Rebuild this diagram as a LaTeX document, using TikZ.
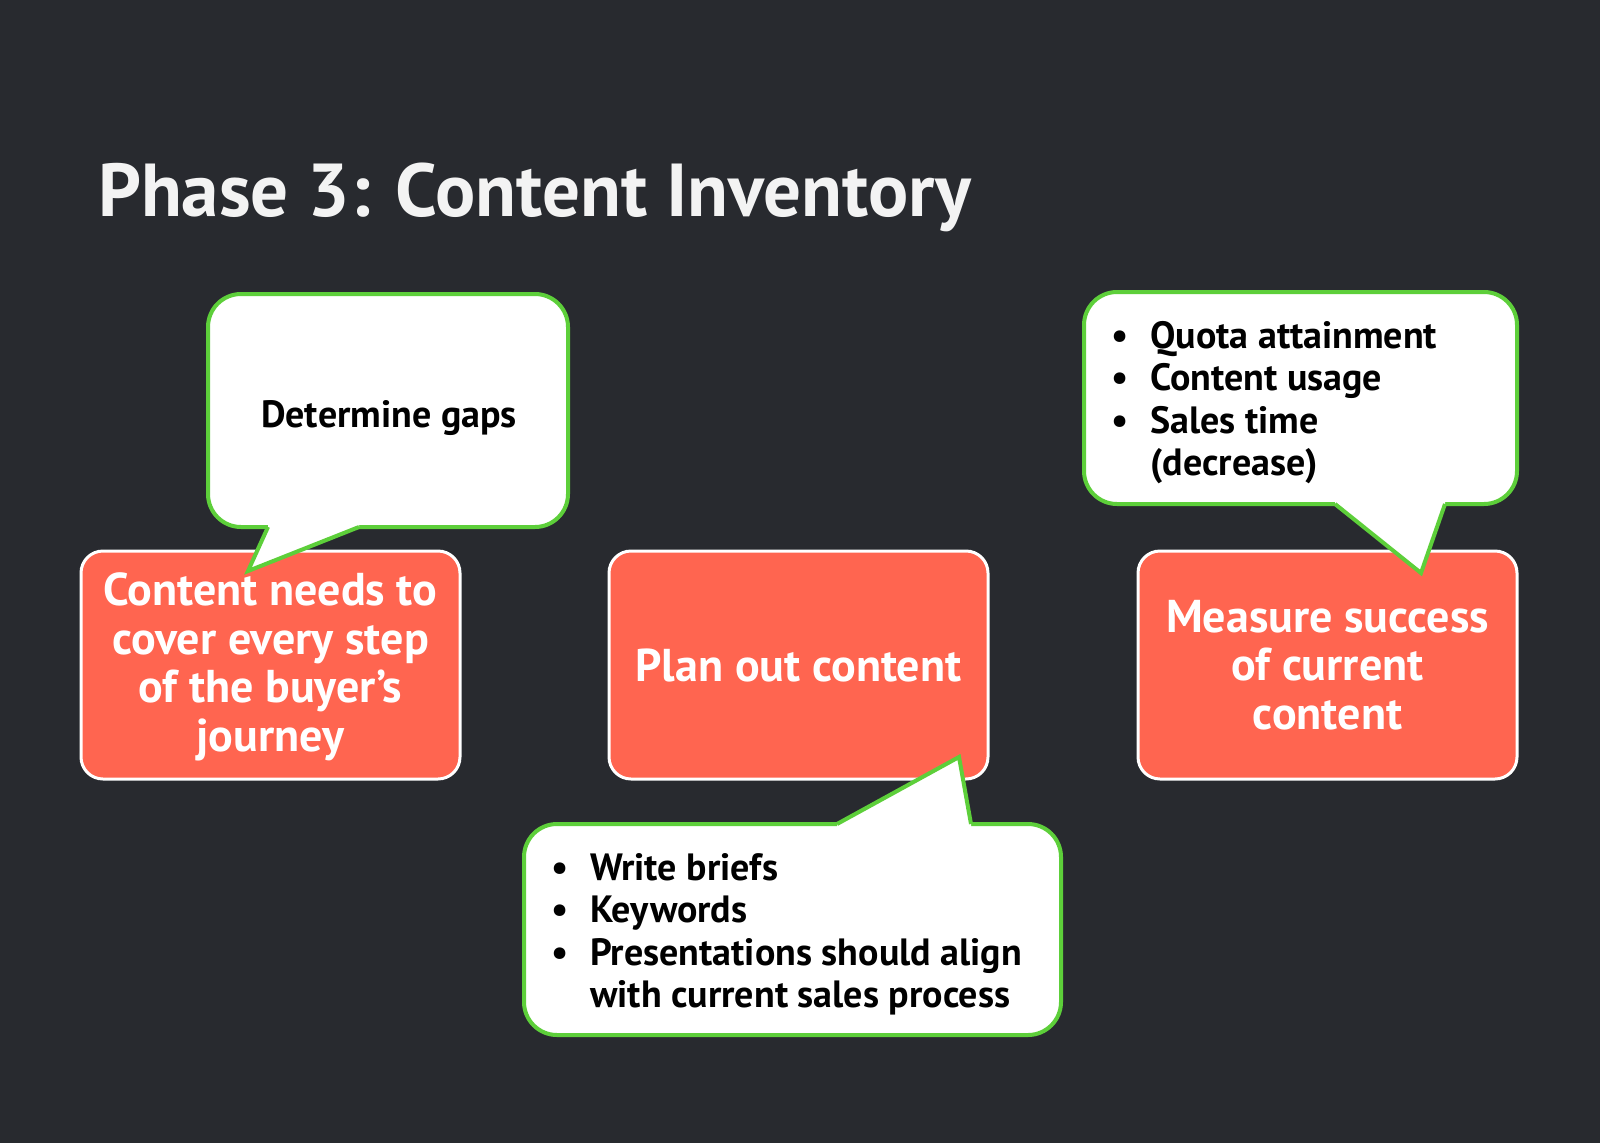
\documentclass[tikz,border=0pt]{standalone}
\usepackage{fontspec}
\setmainfont{PT Sans}
\definecolor{bgdark}{RGB}{40,42,47}
\definecolor{coral}{RGB}{255,101,80}
\definecolor{bubblegreen}{RGB}{93,207,58}
\definecolor{titlewhite}{RGB}{243,243,243}
\begin{document}
\begin{tikzpicture}[x=1pt,y=-1pt]
\tikzset{
 redbox/.style={draw=white, line width=3pt, fill=coral, rounded corners=22pt, minimum width=379pt, minimum height=228pt, inner sep=0pt},
 bubble/.style={draw=bubblegreen, line width=4pt, fill=white, rounded corners=33pt, inner sep=0pt},
 tailfill/.style={fill=white},
 tailline/.style={draw=bubblegreen, line width=4pt, line join=miter},
 boxtext/.style={text=white, font=\bfseries\fontsize{46}{48.5}\selectfont, align=center, inner sep=0pt},
 bubbletext/.style={text=black, font=\bfseries\fontsize{38}{42.5}\selectfont, inner sep=0pt},
}
\fill[bgdark] (0,0) rectangle (1600,1143);
\useasboundingbox (0,0) rectangle (1600,1143);

\node[anchor=base west, text=titlewhite, font=\bfseries\fontsize{75}{80}\selectfont, inner sep=0pt] (title) at (98,216) {Phase 3: Content Inventory};

% orange boxes
\node[redbox] (box1) at (270.5,665) {};
\node[redbox] (box2) at (798.5,665) {};
\node[redbox] (box3) at (1327.5,665) {};

% callout 1
\node[bubble, minimum width=360pt, minimum height=233pt] (call1) at (388,410.5) {};
\coordinate (c1a) at (268,527);
\coordinate (tip1) at (248,571);
\coordinate (c1b) at (359,527);
\fill[tailfill] (268,522) -- (c1a) -- (tip1) -- (c1b) -- (359,522) -- cycle;
\draw[tailline] (c1a) -- (tip1) -- (c1b);

% callout 2
\node[bubble, minimum width=537pt, minimum height=211pt] (call2) at (792.5,929.5) {};
\coordinate (c2a) at (837,824);
\coordinate (tip2) at (959,757);
\coordinate (c2b) at (971,824);
\fill[tailfill] (837,829) -- (c2a) -- (tip2) -- (c2b) -- (971,829) -- cycle;
\draw[tailline] (c2a) -- (tip2) -- (c2b);

% callout 3
\node[bubble, minimum width=433pt, minimum height=212pt] (call3) at (1300.5,398) {};
\coordinate (c3a) at (1335,504);
\coordinate (tip3) at (1421,573);
\coordinate (c3b) at (1445,504);
\fill[tailfill] (1335,499) -- (c3a) -- (tip3) -- (c3b) -- (1445,499) -- cycle;
\draw[tailline] (c3a) -- (tip3) -- (c3b);

% texts
\node[boxtext] (txt1) at ([yshift=-2pt]box1.center) {Content needs to\\cover every step\\of the buyer’s\\journey};
\node[boxtext] (txt2) at (box2.center) {Plan out content};
\node[boxtext] (txt3) at (box3.center) {Measure success\\of current\\content};

\node[bubbletext] (gaps) at (389,418) {Determine gaps};

\node[bubbletext, anchor=base west] (list2) at (551,880) {\begin{tabular}[t]{@{}l@{}l@{}}
\makebox[39pt][l]{\textbullet} & Write briefs\\
\makebox[39pt][l]{\textbullet} & Keywords\\
\makebox[39pt][l]{\textbullet} & Presentations should align\\
\makebox[39pt][l]{} & with current sales process
\end{tabular}};

\node[bubbletext, anchor=base west] (list3) at (1111,348) {\begin{tabular}[t]{@{}l@{}l@{}}
\makebox[39pt][l]{\textbullet} & Quota attainment\\
\makebox[39pt][l]{\textbullet} & Content usage\\
\makebox[39pt][l]{\textbullet} & Sales time\\
\makebox[39pt][l]{} & (decrease)
\end{tabular}};
\end{tikzpicture}
\end{document}
